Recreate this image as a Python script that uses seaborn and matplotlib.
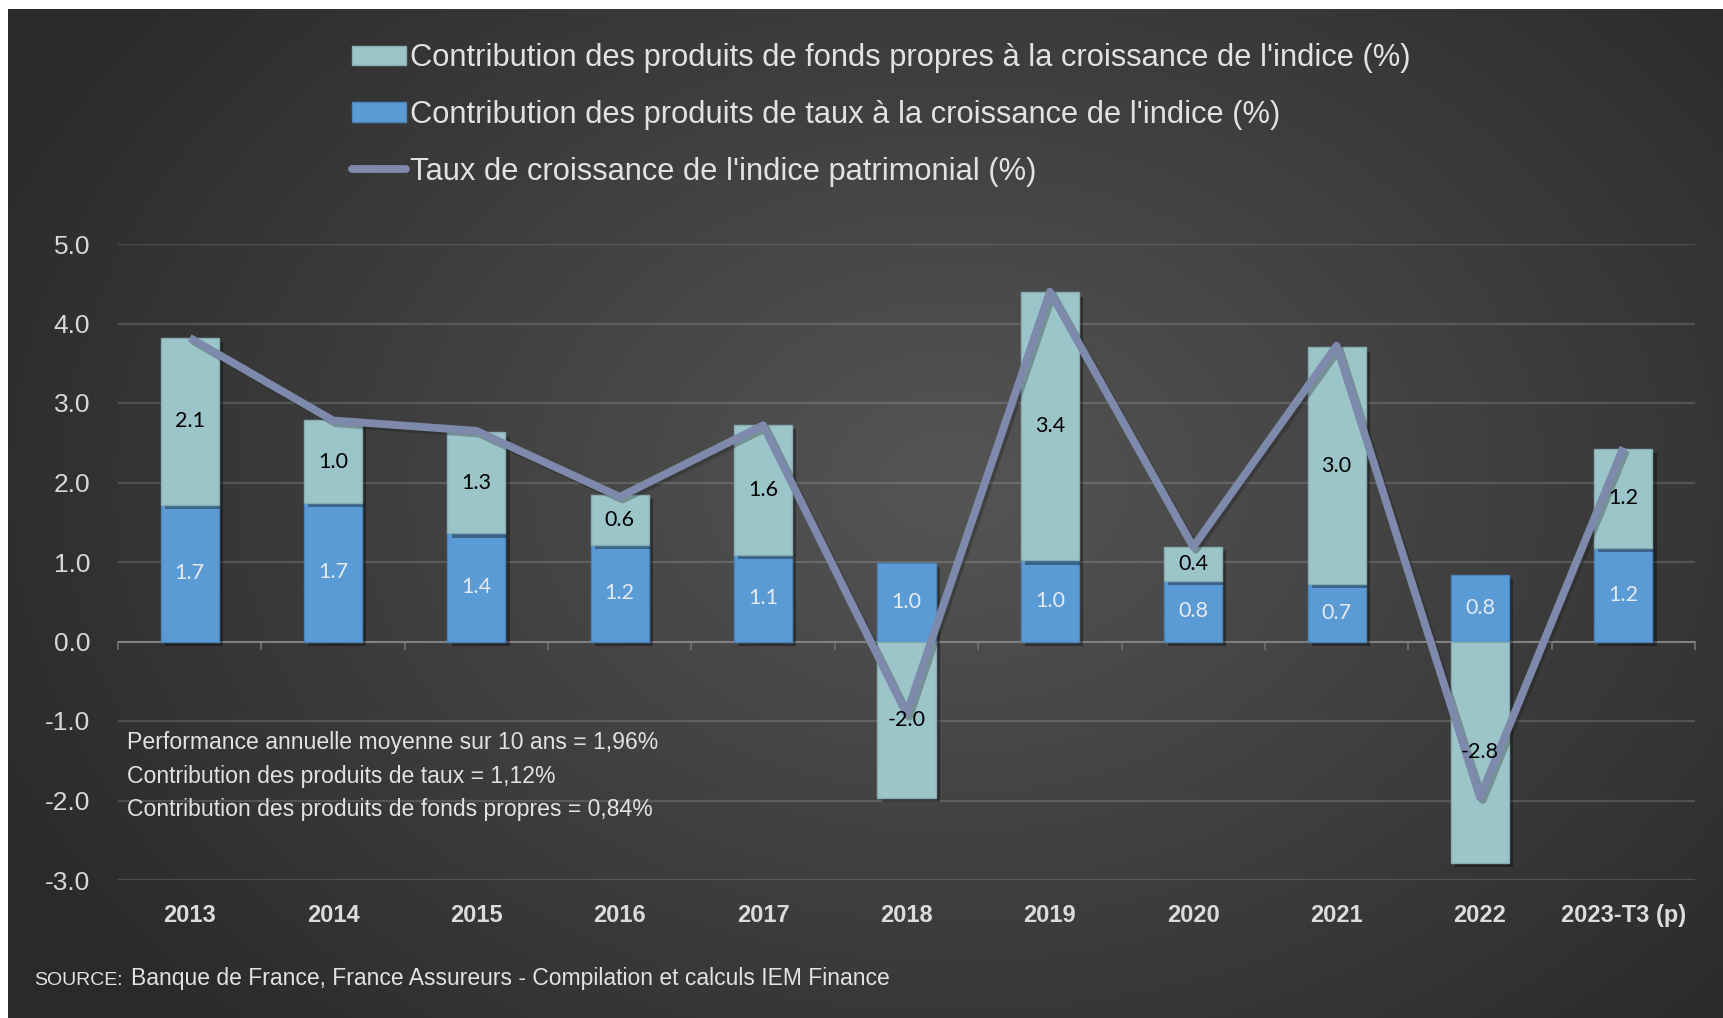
import numpy as np
import pandas as pd
import matplotlib
matplotlib.use("Agg")
import matplotlib.pyplot as plt
import matplotlib.patheffects as pe
from matplotlib.patches import Patch
from matplotlib.lines import Line2D
import seaborn as sns

# values (bar segments are unrounded, labels shown rounded)
years = ["2013", "2014", "2015", "2016", "2017", "2018", "2019", "2020",
         "2021", "2022", "2023-T3 (p)"]
taux = [1.72, 1.74, 1.36, 1.22, 1.09, 0.99, 1.02, 0.76, 0.72, 0.84, 1.18]
fonds_propres = [2.10, 1.04, 1.27, 0.62, 1.63, -1.97, 3.37, 0.43, 2.98, -2.78, 1.24]
croissance = [3.82, 2.78, 2.65, 1.82, 2.72, -0.91, 4.40, 1.19, 3.72, -1.96, 2.44]
y_ticks = [-3, -2, -1, 0, 1, 2, 3, 4, 5]

legend_labels = [
    "Contribution des produits de fonds propres à la croissance de l'indice (%)",
    "Contribution des produits de taux à la croissance de l'indice (%)",
    "Taux de croissance de l'indice patrimonial (%)",
]
notes = [
    "Performance annuelle moyenne sur 10 ans = 1,96%",
    "Contribution des produits de taux = 1,12%",
    "Contribution des produits de fonds propres = 0,84%",
]

BLUE = "#5b9bd5"
AQUA = "#9cc5ca"
LINE = "#7d8aab"
TXT = "#e2e2e2"
FONT = ["Liberation Sans", "DejaVu Sans"]

sns.set_theme(style="white")
plt.rcParams["font.family"] = FONT

W, H = 1723, 1018
fig = plt.figure(figsize=(W / 100, H / 100), dpi=100, facecolor="white")

# dark radial gradient backdrop
bg = fig.add_axes([8 / W, 0, 1 - 8 / W, 1 - 9 / H])
gx, gy = np.meshgrid(np.linspace(0, 1, 700), np.linspace(0, 1, 420))
r = np.sqrt(((gx - 0.55) / 0.62) ** 2 + ((gy - 0.47) / 0.78) ** 2)
shade = (42 + 43 * np.clip(1 - r, 0, 1)) / 255
bg.imshow(np.dstack([shade] * 3), extent=(0, 1, 0, 1), aspect="auto",
          interpolation="bicubic")
bg.set_axis_off()

ax = fig.add_axes([118 / W, 1 - 880 / H, (1695 - 118) / W, (880 - 244) / H])
ax.patch.set_alpha(0)

df = pd.DataFrame({"annee": years, "taux": taux, "fp": fonds_propres})
bottoms = np.where(df["fp"] > 0, df["taux"], 0)

sns.barplot(data=df, x="annee", y="taux", order=years, color=BLUE, saturation=1,
            width=0.405, errorbar=None, edgecolor="#4a84bb", linewidth=1, ax=ax)
sns.barplot(data=df, x="annee", y="fp", order=years, color=AQUA, saturation=1,
            width=0.405, errorbar=None, bottom=bottoms, edgecolor="#86adb2",
            linewidth=1, ax=ax)

shadow = [pe.SimplePatchShadow(offset=(3, -3), shadow_rgbFace="black", alpha=0.35),
          pe.Normal()]
for p in ax.patches:
    p.set_path_effects(shadow)
    p.set_zorder(3)

ax.bar_label(ax.containers[0], labels=[f"{v:.1f}" for v in taux],
             label_type="center", color="#e4eaf0", fontsize=15.5,
             family=["Lato", "DejaVu Sans"], zorder=6)
ax.bar_label(ax.containers[1], labels=[f"{v:.1f}" for v in fonds_propres],
             label_type="center", color="black", fontsize=15.5,
             family=["Lato", "DejaVu Sans"], zorder=6)

sns.lineplot(x=np.arange(len(years)), y=croissance, color=LINE, linewidth=5.6,
             solid_joinstyle="round", solid_capstyle="butt", ax=ax, zorder=5,
             path_effects=[pe.SimpleLineShadow(offset=(2, -2), alpha=0.3),
                           pe.Normal()])

ax.set_xlim(-0.5, len(years) - 0.5)
ax.set_ylim(-3, 5)
ax.set_xlabel("")
ax.set_ylabel("")
ax.set_xticks(range(len(years)), labels=years)
ax.set_yticks(y_ticks, labels=[f"{v:.1f}" for v in y_ticks])
ax.tick_params(axis="x", length=0, pad=17, labelsize=17, labelcolor="#dcdcdc")
ax.tick_params(axis="y", length=0, pad=20, labelsize=19, labelcolor="#d8d8d8")
for lab in ax.get_xticklabels():
    lab.set_fontweight("bold")
ax.yaxis.grid(True, color="white", alpha=0.15, linewidth=1.6)
ax.set_axisbelow(True)
for s in ax.spines.values():
    s.set_visible(False)

# category tick marks hanging under the zero line
zero = ax.secondary_xaxis(3 / 8)
zero.set_xticks(np.arange(-0.5, len(years)), labels=[])
zero.tick_params(length=6, width=1.4, color="#6a6a6a", direction="out")
zero.spines["bottom"].set_color("#6a6a6a")
zero.spines["bottom"].set_linewidth(1.4)

handles = [Patch(facecolor=AQUA, edgecolor="#86adb2"),
           Patch(facecolor=BLUE, edgecolor="#4a84bb"),
           Line2D([], [], color=LINE, lw=5.6, solid_capstyle="round")]
fig.legend(handles, legend_labels, loc="upper left",
           bbox_to_anchor=(352 / W, 1 - 43 / H), frameon=False, fontsize=22.2,
           labelcolor=TXT, handlelength=1.74, handleheight=0.58,
           handletextpad=0.13, labelspacing=0.87, borderpad=0, borderaxespad=0)

for i, line in enumerate(notes):
    fig.text(127 / W, 1 - (749 + 33.5 * i) / H, line, fontsize=16.6, color=TXT,
             va="baseline")

fig.text(34 / W, 1 - 985 / H, "SOURCE:", fontsize=14, color=TXT, va="baseline")
fig.text(131 / W, 1 - 985 / H,
         "Banque de France, France Assureurs - Compilation et calculs IEM Finance",
         fontsize=16.5, color=TXT, va="baseline")

fig.savefig("out.png", dpi=100, facecolor="white")
